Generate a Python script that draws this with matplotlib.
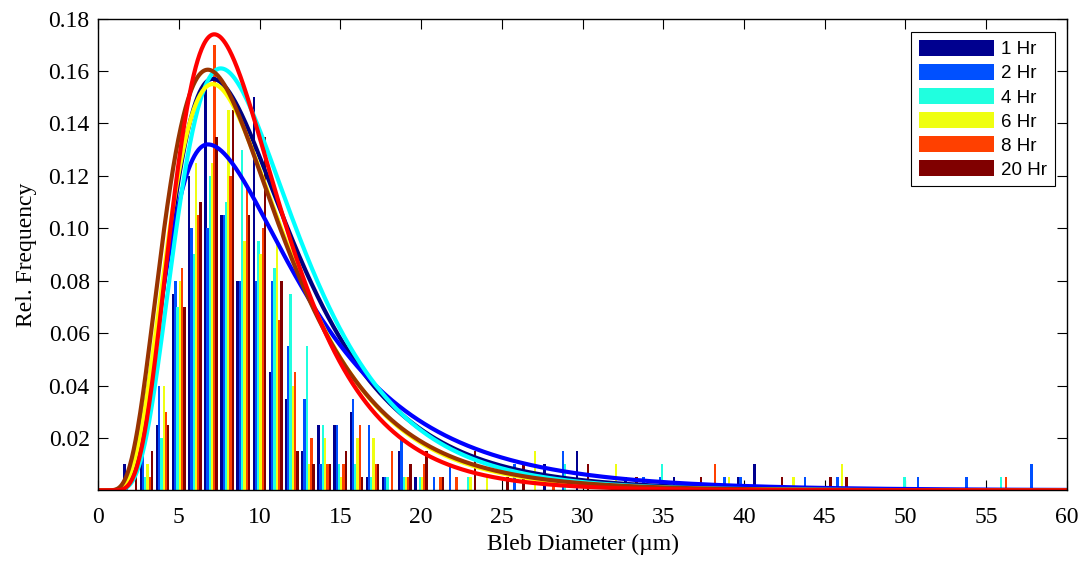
import numpy as np
import matplotlib
matplotlib.use('Agg')
import matplotlib.pyplot as plt
from matplotlib.patches import Patch

# ---------------- data ----------------
bins = np.arange(1, 61)
series_labels = ['1 Hr', '2 Hr', '4 Hr', '6 Hr', '8 Hr', '20 Hr']

hr1 = [0, 0.01, 0.015, 0.025, 0.075, 0.12, 0.155, 0.105, 0.08, 0.15,
       0.045, 0.035, 0.015, 0.025, 0.025, 0.03, 0.005, 0.005, 0.015, 0.005,
       0, 0, 0, 0, 0, 0, 0, 0.01, 0, 0.015,
       0, 0, 0.005, 0, 0, 0.005, 0, 0, 0, 0.005,
       0.01, 0, 0, 0, 0, 0, 0, 0, 0, 0,
       0, 0, 0, 0, 0, 0, 0, 0, 0, 0]
hr2 = [0, 0.005, 0.015, 0.04, 0.08, 0.10, 0.10, 0.105, 0.08, 0.08,
       0.08, 0.055, 0.035, 0.01, 0.025, 0.035, 0.025, 0.005, 0.02, 0,
       0.005, 0.01, 0, 0, 0, 0.01, 0, 0, 0.015, 0,
       0, 0, 0, 0.005, 0.005, 0, 0, 0, 0.005, 0.005,
       0, 0, 0, 0.005, 0, 0.005, 0, 0, 0, 0,
       0.005, 0, 0, 0.005, 0, 0, 0, 0.01, 0, 0]
hr4 = [0, 0, 0.005, 0.02, 0.07, 0.09, 0.12, 0.11, 0.13, 0.095,
       0.085, 0.075, 0.055, 0.025, 0.01, 0.01, 0.005, 0.005, 0.005, 0.005,
       0, 0, 0.005, 0, 0, 0, 0, 0, 0.01, 0,
       0, 0, 0, 0, 0.01, 0, 0, 0, 0, 0,
       0, 0, 0, 0, 0, 0, 0, 0, 0, 0.005,
       0, 0, 0, 0, 0, 0.005, 0, 0, 0, 0]
hr6 = [0, 0, 0.01, 0.04, 0.08, 0.125, 0.125, 0.145, 0.095, 0.09,
       0.095, 0.04, 0.01, 0.02, 0.005, 0.02, 0.02, 0, 0.005, 0.005,
       0, 0, 0.005, 0.005, 0, 0, 0.015, 0, 0, 0,
       0, 0.01, 0, 0, 0, 0, 0, 0, 0.005, 0,
       0, 0, 0.005, 0, 0, 0.01, 0, 0, 0, 0,
       0, 0, 0, 0, 0, 0, 0, 0, 0, 0]
hr8 = [0, 0, 0.005, 0.03, 0.085, 0.105, 0.17, 0.12, 0.115, 0.10,
       0.065, 0.045, 0.02, 0.01, 0.01, 0.025, 0.01, 0.015, 0.005, 0.01,
       0.005, 0.005, 0, 0, 0, 0, 0, 0.005, 0, 0,
       0, 0, 0, 0, 0, 0, 0, 0.01, 0, 0,
       0, 0, 0, 0, 0, 0, 0, 0, 0, 0,
       0, 0, 0, 0, 0, 0.005, 0, 0, 0, 0]
hr20 = [0, 0.01, 0.015, 0.025, 0.07, 0.11, 0.135, 0.145, 0.105, 0.135,
        0.08, 0.015, 0.01, 0.01, 0.015, 0.005, 0.01, 0, 0.01, 0.015,
        0.005, 0, 0.015, 0, 0.005, 0.01, 0, 0, 0, 0.01,
        0, 0, 0.005, 0, 0, 0, 0.005, 0, 0, 0,
        0, 0.005, 0, 0, 0.005, 0.005, 0, 0, 0, 0,
        0, 0, 0, 0, 0, 0, 0, 0, 0, 0]
series_values = [hr1, hr2, hr4, hr6, hr8, hr20]
bar_colors = ['#00008F', '#0050FF', '#20FFDF', '#EFFF10', '#FF4000', '#800000']

# fitted (split) log-normal shaped curves: peak height, peak position,
# log-width on the left and on the right of the peak
fit_colors = ['#000080', '#0000FF', '#00FFFF', '#FFFF00', '#993300', '#FF0000']
fit_peak = [0.157, 0.132, 0.161, 0.155, 0.1605, 0.174]
fit_mode = [7.1, 6.8, 7.6, 7.1, 6.8, 7.2]
fit_sigma_left = [0.47, 0.50, 0.46, 0.50, 0.52, 0.45]
fit_sigma_right = [0.53, 0.60, 0.49, 0.50, 0.52, 0.46]

x_ticks = list(range(0, 61, 5))
y_ticks = [0.02, 0.04, 0.06, 0.08, 0.10, 0.12, 0.14, 0.16, 0.18]

# ---------------- plot ----------------
serif = ['Liberation Serif', 'DejaVu Serif']
plt.rcParams['font.family'] = serif

fig = plt.figure(figsize=(10.87, 5.61), dpi=100)
ax = fig.add_axes([0.09016, 0.12585, 0.89144, 0.84100])

n = len(series_values)
group_w = 0.84
w = group_w / n
for i, (vals, col) in enumerate(zip(series_values, bar_colors)):
    ax.bar(bins + (i - (n - 1) / 2) * w, vals, width=w * 1.08, color=col,
           linewidth=0, antialiased=False, zorder=2)

xs = np.linspace(0.01, 60, 1500)
for col, pk, md, sl, sr in zip(fit_colors, fit_peak, fit_mode,
                               fit_sigma_left, fit_sigma_right):
    sg = np.where(xs < md, sl, sr)
    ys = pk * np.exp(-(np.log(xs) - np.log(md)) ** 2 / (2 * sg ** 2))
    ax.plot(xs, ys, color=col, lw=3.0, zorder=3, solid_capstyle='round')

ax.set_xlim(0, 60)
ax.set_ylim(0, 0.18)
ax.set_xticks(x_ticks)
ax.set_xticklabels([str(t) for t in x_ticks])
ax.set_yticks(y_ticks)
ax.set_yticklabels([f'{t:.2f}' for t in y_ticks])
ax.tick_params(direction='in', top=True, right=True, length=7, width=0.8,
               labelsize=17)
ax.tick_params(axis='x', pad=12)
ax.tick_params(axis='y', pad=6)
for s in ax.spines.values():
    s.set_linewidth(1.0)
    s.set_zorder(5)

ax.set_xlabel('Bleb Diameter (µm)', fontsize=17, labelpad=4)
ax.set_ylabel('Rel. Frequency', fontsize=17, labelpad=8)

handles = [Patch(facecolor=c, edgecolor='none') for c in bar_colors]
leg = ax.legend(handles, series_labels, loc='upper right',
                bbox_to_anchor=(0.9876, 0.9716), borderaxespad=0,
                prop={'family': ['Liberation Sans'], 'size': 13.5},
                handlelength=4.0, handleheight=0.96, labelspacing=0.29,
                borderpad=0.42, handletextpad=0.4, fancybox=False,
                framealpha=1, edgecolor='black')
leg.get_frame().set_linewidth(0.8)
leg.set_zorder(6)

fig.savefig('out.png', dpi=100)
